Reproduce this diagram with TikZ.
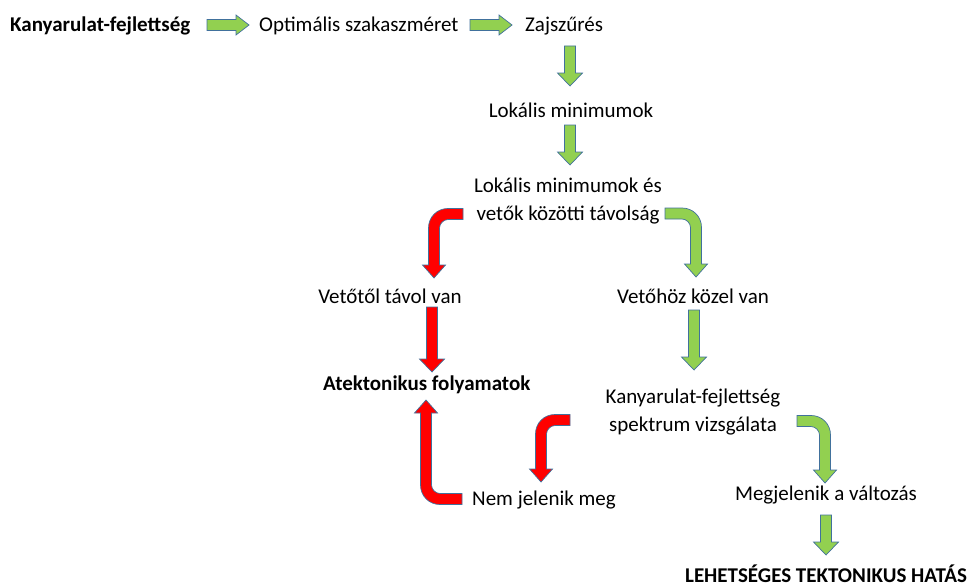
\documentclass[tikz,border=0pt]{standalone}
\usepackage{fontspec}
\setmainfont{Carlito}
\definecolor{arrowgreen}{HTML}{92D050}
\definecolor{arrowred}{HTML}{FF0000}
\definecolor{arrowline}{HTML}{41719C}
\begin{document}
\begin{tikzpicture}[x=1pt,y=-1pt,
  txt/.style={inner sep=0pt,font=\fontsize{21}{28}\selectfont,align=center},
  bld/.style={txt,font=\fontsize{21}{28}\selectfont\bfseries},
  grn/.style={fill=arrowgreen,draw=arrowline,line width=0.7pt},
  rd/.style={fill=arrowred,draw=arrowline,line width=0.7pt}]

\useasboundingbox (0,0) rectangle (968,586);

\newcommand{\downarr}[4]{%
  \filldraw[#1] ({#2-5.5},#3) -- ({#2+5.5},#3) -- ({#2+5.5},{#4-13}) -- ({#2+12.5},{#4-13})
    -- (#2,#4) -- ({#2-12.5},{#4-13}) -- ({#2-5.5},{#4-13}) -- cycle;}
\newcommand{\rightarr}[4]{%
  \filldraw[#1] (#2,{#4-5.5}) -- ({#3-13},{#4-5.5}) -- ({#3-13},{#4-10}) -- (#3,#4)
    -- ({#3-13},{#4+10}) -- ({#3-13},{#4+5.5}) -- (#2,{#4+5.5}) -- cycle;}
% bent arrow: start of band at (#2,#3), shaft #4 to the side, tip #5 below
\newcommand{\bentarr}[7]{%
  \filldraw[#1,shift={(#2,#3)},xscale=#6,yscale=#7] (0,-5.5) -- ({-#4+14},-5.5)
    .. controls ({-#4+3},-5.5) and ({-#4-5.5},3) .. ({-#4-5.5},14) -- ({-#4-5.5},{#5-13})
    -- ({-#4-11.5},{#5-13}) -- (-#4,#5) -- ({-#4+11.5},{#5-13}) -- ({-#4+5.5},{#5-13})
    -- ({-#4+5.5},14) .. controls ({-#4+5.5},9.6) and ({-#4+9.6},5.5) .. ({-#4+14},5.5)
    -- (0,5.5) -- cycle;}

% first row
\node[bld,anchor=base west] (kany) at (10,32) {Kanyarulat-fejlettség};
\node[txt,anchor=base west] (opt) at (259,32) {Optimális szakaszméret};
\node[txt,anchor=base west] (zaj) at (525,32) {Zajszűrés};
\rightarr{grn}{207}{249}{25}
\rightarr{grn}{470}{512}{25}

\downarr{grn}{570}{46}{86}
\node[txt,anchor=base] (lok) at (571,117) {Lokális minimumok};
\downarr{grn}{570}{125}{165}
\node[txt,anchor=base] (tav) at (568,220) {Lokális minimumok és\\vetők közötti távolság};

% left branch
\bentarr{rd}{463}{214}{29}{64}{1}{1}
\node[txt,anchor=base] (tavol) at (390,303) {Vetőtől távol van};
\downarr{rd}{432}{307}{372}
\node[bld,anchor=base west] (atek) at (323,390) {Atektonikus folyamatok};

% right branch
\bentarr{grn}{665}{213.5}{31}{63.5}{-1}{1}
\node[txt,anchor=base] (kozel) at (693,303) {Vetőhöz közel van};
\downarr{grn}{694}{310}{370}
\node[txt,anchor=base] (spek) at (693,431) {Kanyarulat-fejlettség\\spektrum vizsgálata};

\bentarr{rd}{570}{420}{29}{62}{1}{1}
\node[txt,anchor=base west] (nem) at (472,505) {Nem jelenik meg};
\bentarr{rd}{462}{499}{36}{99}{1}{-1}

\bentarr{grn}{797}{421}{28}{62}{-1}{1}
\node[txt,anchor=base] (megj) at (826,500) {Megjelenik a változás};
\downarr{grn}{826}{515}{555}
\node[bld,anchor=base] (hatas) at (826,582) {LEHETSÉGES TEKTONIKUS HATÁS};

\end{tikzpicture}
\end{document}
